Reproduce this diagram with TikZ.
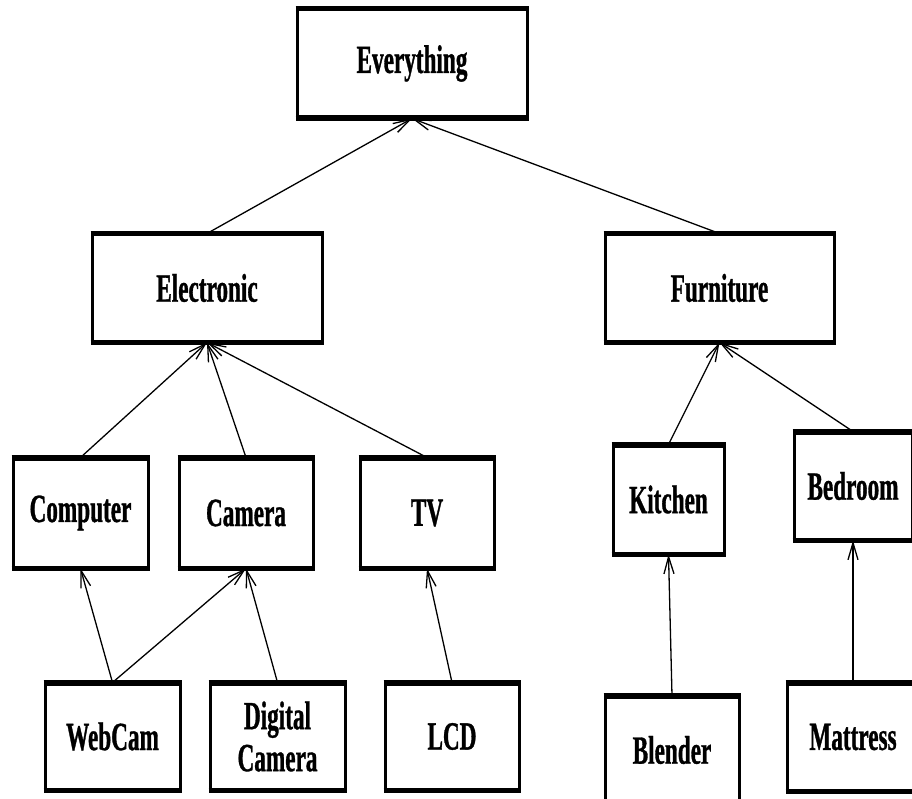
\documentclass[tikz,border=0pt]{standalone}
\usepackage{fontspec}
\newfontfamily\boxfont{Liberation Serif}[FakeStretch=0.58, FakeBold=0.8]
\usetikzlibrary{arrows.meta}
\begin{document}
\begin{tikzpicture}[x=1pt,y=-1pt,
  box/.style={draw, line width=3pt, rectangle, inner sep=0pt, align=center,
    font=\boxfont\bfseries\fontsize{40}{42}\selectfont,
    append after command={
      (\tikzlastnode.north west) edge[line width=5pt] (\tikzlastnode.north east)
      (\tikzlastnode.south west) edge[line width=5pt] (\tikzlastnode.south east)}},
  wide/.style={box, minimum width=230pt, minimum height=106pt},
  small/.style={box, minimum width=134pt, minimum height=106pt},
  link/.style={line width=1.3pt, -{Straight Barb[length=17pt,width=10pt]}}]

\clip (0,0) rectangle (912,799);
\fill[white] (0,0) rectangle (912,799);

% top level
\node[wide, minimum height=107pt] (every) at (412,63.5) {Everything};

% second level
\node[wide] (elec) at (207,288) {Electronic};
\node[wide, minimum width=229pt] (furn) at (719.5,288) {Furniture};

% third level
\node[small, minimum width=135pt, minimum height=108pt] (comp) at (80.5,513) {Computer};
\node[small, minimum height=108pt] (cam) at (246,513) {Camera};
\node[small, minimum height=108pt] (tv) at (427,513) {TV};
\node[small, minimum width=111pt, minimum height=107pt] (kit) at (668.5,499.5) {Kitchen};
\node[small, minimum width=118pt] (bed) at (853,486) {Bedroom};

% leaves
\node[small, minimum width=135pt, minimum height=105pt] (web) at (112.5,736.5) {WebCam};
\node[small, minimum width=135pt, minimum height=105pt] (dig) at (277.5,736.5) {Digital\\Camera};
\node[small, minimum height=105pt] (lcd) at (452,736.5) {LCD};
\node[small] (blend) at (672,750) {Blender};
\node[small, minimum width=132pt] (matt) at (853,737) {Mattress};

% is-a links, child to parent
\draw[link] (elec.north) -- (every.south);
\draw[link] (furn.north) -- (every.south);
\draw[link] (comp.north) -- (elec.south);
\draw[link] (cam.north) -- (elec.south);
\draw[link] (tv.north) -- (elec.south);
\draw[link] (kit.north) -- (furn.south);
\draw[link] (bed.north) -- (furn.south);
\draw[link] (web.north) -- (comp.south);
\draw[link] (web.north) -- (cam.south);
\draw[link] (dig.north) -- (cam.south);
\draw[link] (lcd.north) -- (tv.south);
\draw[link] (blend.north) -- (kit.south);
\draw[link] (matt.north) -- (bed.south);
\end{tikzpicture}
\end{document}
